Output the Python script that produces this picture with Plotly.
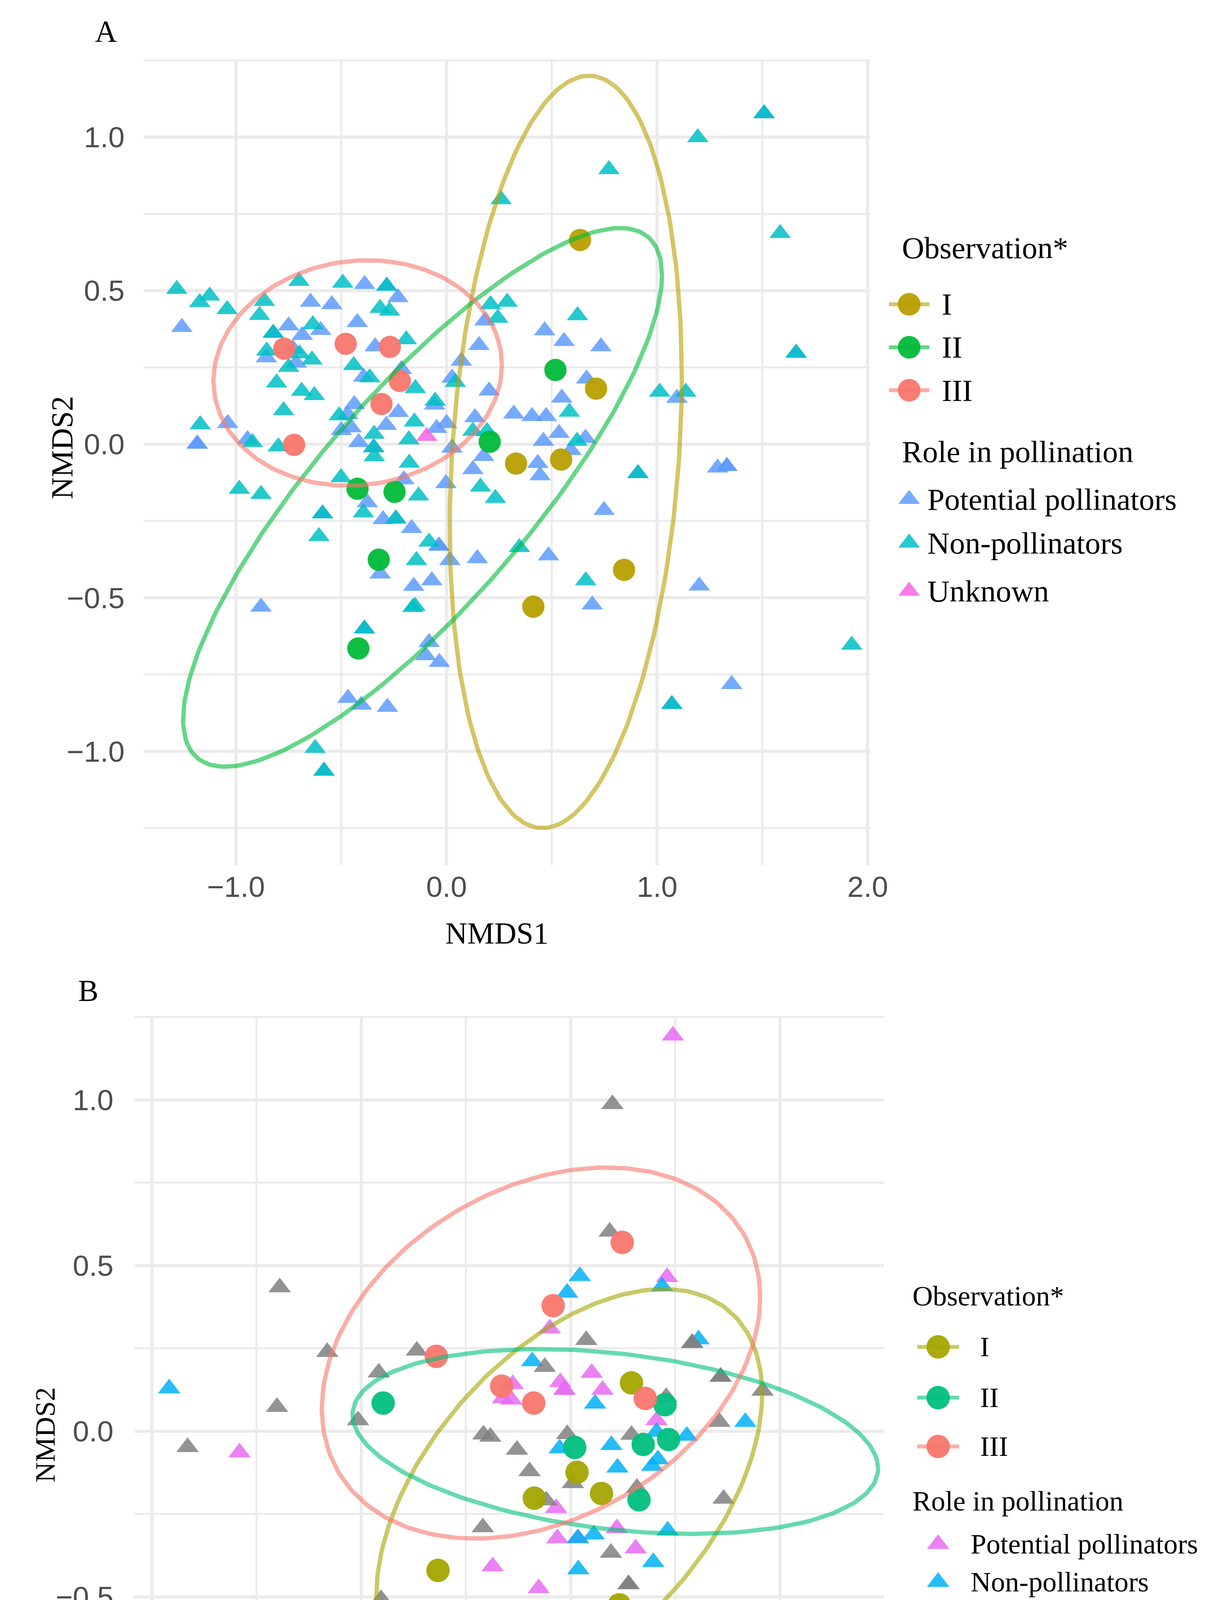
import numpy as np
import plotly.graph_objects as go

# ---------------- panel A : NMDS scores ----------------
# observation groups (circles)
A_I = [(0.634, 0.665), (0.710, 0.181), (0.330, -0.063), (0.544, -0.050), (0.843, -0.409), (0.412, -0.529)]
A_II = [(0.517, 0.242), (0.205, 0.008), (-0.423, -0.145), (-0.247, -0.155), (-0.322, -0.376), (-0.419, -0.665)]
A_III = [(-0.771, 0.311), (-0.479, 0.327), (-0.269, 0.317), (-0.222, 0.206), (-0.309, 0.131), (-0.724, -0.002)]

# species (triangles) by role in pollination
A_POT = [
    (-0.389, 0.521), (-0.284, 0.515), (-0.231, 0.478), (-0.646, 0.463), (-0.545, 0.455), (-1.257, 0.381),
    (-0.424, 0.397), (-0.750, 0.386), (-0.823, 0.362), (-0.598, 0.371), (-0.685, 0.355), (-0.856, 0.282),
    (-0.714, 0.265), (-0.729, 0.311), (-0.339, 0.318), (-0.394, 0.219), (-0.214, 0.244), (0.070, 0.271),
    (0.026, 0.216), (-1.039, 0.068), (-1.184, 0.001), (-1.184, 0.001), (-0.945, 0.016), (-0.438, 0.130),
    (-0.469, 0.097), (-0.229, 0.104), (-0.286, 0.062), (-0.057, 0.128), (0.000, 0.068), (-0.047, 0.052),
    (0.135, 0.087), (-0.500, 0.045), (-0.453, 0.054), (-0.346, -0.011), (-0.417, 0.006), (0.026, -0.012),
    (-0.203, -0.115), (-0.003, -0.128), (0.125, -0.082), (-0.376, -0.190), (-0.589, -0.226), (-0.301, -0.245),
    (-0.241, -0.243), (-0.166, -0.274), (-0.036, -0.331), (-0.036, -0.331), (0.016, -0.378), (0.146, -0.372),
    (-0.315, -0.422), (-0.070, -0.444), (-0.156, -0.462), (-0.881, -0.530), (-0.390, -0.601), (-0.083, -0.645),
    (-0.099, -0.688), (-0.034, -0.710), (-0.468, -0.827), (-0.405, -0.849), (-0.281, -0.856), (-0.582, -1.064),
    (1.508, 1.077), (1.660, 0.297), (0.182, 0.402), (0.466, 0.370), (0.558, 0.335), (0.733, 0.318),
    (0.154, 0.322), (0.202, 0.174), (0.665, 0.213), (1.094, 0.150), (0.547, 0.151), (0.319, 0.099),
    (0.406, 0.091), (0.473, 0.091), (0.534, 0.036), (0.460, 0.010), (0.660, 0.020),
    (0.176, -0.039), (0.591, -0.020), (0.433, -0.062), (0.444, -0.102), (0.909, -0.095), (1.287, -0.077),
    (1.331, -0.072), (1.331, -0.072), (0.748, -0.215), (0.484, -0.363), (0.692, -0.523), (1.200, -0.461),
    (1.354, -0.782), (1.070, -0.847),
]
A_NON = [
    (-1.281, 0.505), (-1.125, 0.483), (-1.172, 0.462), (-1.042, 0.439), (-0.865, 0.466), (-0.701, 0.531),
    (-0.493, 0.525), (-0.284, 0.515), (-0.316, 0.443), (-0.271, 0.434), (-0.888, 0.420), (-0.823, 0.362),
    (-0.635, 0.390), (-0.854, 0.304), (-0.698, 0.295), (-0.639, 0.275), (-0.750, 0.251), (-0.191, 0.341),
    (-0.441, 0.257), (-0.365, 0.217), (-0.148, 0.182), (0.042, 0.202), (-0.807, 0.200), (-0.688, 0.173),
    (-0.628, 0.159), (-0.774, 0.110), (-1.170, 0.064), (-0.922, 0.006), (-0.799, -0.008), (-0.510, 0.093),
    (-0.153, 0.073), (-0.054, 0.141), (0.125, 0.043), (-0.344, 0.033), (-0.346, -0.011), (-0.179, 0.015),
    (-0.343, -0.040),
    (-0.984, -0.146), (-0.881, -0.163), (-0.501, -0.108), (-0.177, -0.061), (-0.133, -0.168), (0.161, -0.139),
    (-0.395, -0.223), (-0.589, -0.226), (-0.241, -0.243), (-0.606, -0.300), (-0.083, -0.318), (-0.143, -0.378),
    (-0.160, -0.531), (-0.150, -0.527), (-0.390, -0.601), (-0.624, -0.990), (-0.582, -1.064),
    (1.508, 1.077), (1.193, 0.999), (0.771, 0.895), (0.259, 0.797), (1.584, 0.687), (1.660, 0.297),
    (0.209, 0.455), (0.288, 0.463), (0.243, 0.411), (0.622, 0.419), (1.012, 0.170), (1.136, 0.170),
    (0.583, 0.105), (0.620, 0.010),
    (0.192, 0.042), (0.232, -0.176), (0.909, -0.095), (0.346, -0.336), (0.661, -0.444), (1.924, -0.654),
    (1.070, -0.847),
]
A_UNK = [(-0.094, 0.026)]

# 95% ellipses per observation (I, II, III): centre, half extents in x / y, x-y correlation
A_ELL_CX = [0.566, -0.114, -0.422]
A_ELL_CY = [-0.025, -0.173, 0.232]
A_ELL_EX = [0.551, 1.137, 0.685]
A_ELL_EY = [1.225, 0.877, 0.367]
A_ELL_R = [0.20, 0.825, 0.07]

# ---------------- panel B ----------------
B_I = [(0.291, 0.146), (0.031, -0.124), (-0.173, -0.202), (0.148, -0.188), (0.233, -0.524), (-0.633, -0.420)]
B_II = [(0.451, 0.080), (0.020, -0.049), (0.347, -0.040), (0.468, -0.025), (0.327, -0.207), (-0.895, 0.085)]
B_III = [(0.247, 0.570), (-0.083, 0.379), (-0.329, 0.136), (-0.176, 0.085), (0.357, 0.099), (-0.641, 0.226)]

B_POT = [
    (0.461, 0.465), (-0.099, 0.310), (0.101, 0.176), (-0.276, 0.142), (-0.049, 0.148), (-0.029, 0.125),
    (-0.029, 0.125), (0.153, 0.125), (-0.323, 0.099), (-0.283, 0.095), (0.411, 0.033), (-0.069, -0.232),
    (0.221, -0.293), (-0.063, -0.323), (0.035, -0.323), (0.311, -0.354), (-0.372, -0.408), (-0.152, -0.474),
    (0.489, 1.194), (-1.581, -0.064), (0.032, -0.849), (0.459, -1.205), (0.459, -1.205),
]
B_NON = [
    (0.044, 0.468), (-0.016, 0.418), (0.437, 0.437), (0.611, 0.277), (-0.183, 0.211), (0.117, 0.083),
    (0.835, 0.028), (0.411, -0.002), (0.555, -0.014), (-0.052, -0.052), (0.195, -0.042), (0.417, -0.085),
    (0.390, -0.105), (0.224, -0.110), (0.464, -0.300), (0.035, -0.323), (0.111, -0.312), (0.395, -0.395),
    (0.037, -0.417), (-1.917, 0.129), (-0.868, -0.839), (0.294, -0.955),
]
B_UNK = [
    (0.187, 0.602), (0.075, 0.275), (0.581, 0.266), (0.581, 0.266), (-0.123, 0.194), (0.717, 0.164),
    (0.717, 0.164), (0.917, 0.122), (0.457, 0.103), (0.711, 0.028), (-0.416, -0.010), (-0.383, -0.017),
    (-0.016, -0.009), (0.291, -0.011), (-0.256, -0.056), (-0.196, -0.121), (0.011, -0.157), (0.317, -0.171),
    (-0.116, -0.209), (0.731, -0.204), (-0.419, -0.290), (0.193, -0.367), (0.277, -0.462), (0.277, -0.462),
    (0.687, -0.538), (0.200, 0.987), (-1.389, 0.434), (-1.162, 0.239), (-0.734, 0.243), (-0.916, 0.177),
    (-1.402, 0.073), (-1.015, 0.033), (-1.829, -0.048), (-0.905, -0.507), (-1.049, -0.816), (0.254, -0.839),
    (-1.370, -0.980),
]

B_ELL_CX = [-0.006, 0.214, -0.141]
B_ELL_CY = [-0.191, -0.031, 0.236]
B_ELL_EX = [0.921, 1.255, 1.047]
B_ELL_EY = [0.620, 0.279, 0.560]
B_ELL_R = [0.49, -0.29, 0.30]

OBS_LABELS = ["I", "II", "III"]
ROLE_LABELS = ["Potential pollinators", "Non-pollinators", "Unknown"]

# ---------------- styling ----------------
W, H = 3131, 5015
SANS = "Liberation Sans"
SERIF = "Liberation Serif"
GRID = "#EBEBEB"

A_OBS_COL = ["#B79F00", "#00BA38", "#F8766D"]
A_ROLE_COL = ["#5E9BFF", "#00BFC4", "#F564E3"]
B_OBS_COL = ["#A3A500", "#00BF7D", "#F8766D"]
B_ROLE_COL = ["#E76BF3", "#00B0F6", "#808080"]


def rgba(hx, a):
    hx = hx.lstrip("#")
    return "rgba(%d,%d,%d,%.2f)" % (int(hx[0:2], 16), int(hx[2:4], 16), int(hx[4:6], 16), a)


def ellipse(cx, cy, ex, ey, r, n=240):
    t = np.linspace(0, 2 * np.pi, n)
    x = cx + ex * np.cos(t)
    y = cy + ey * (r * np.cos(t) + np.sqrt(1 - r ** 2) * np.sin(t))
    return x, y


def px(x):
    return x / W


def py(y):
    return 1 - y / H


fig = go.Figure()


def add_panel(xa, ya, obs, roles, ell, obs_col, role_col, circ_size, tri_size):
    for pts, col in zip(roles, role_col):
        if not pts:
            continue
        fig.add_trace(go.Scatter(
            x=[p[0] for p in pts], y=[p[1] for p in pts], mode="markers", xaxis=xa, yaxis=ya,
            showlegend=False, hoverinfo="skip",
            marker=dict(symbol="triangle-up", size=tri_size, color=col, opacity=0.85, line=dict(width=0))))
    for pts, col in zip(obs, obs_col):
        fig.add_trace(go.Scatter(
            x=[p[0] for p in pts], y=[p[1] for p in pts], mode="markers", xaxis=xa, yaxis=ya,
            showlegend=False, hoverinfo="skip",
            marker=dict(symbol="circle", size=circ_size, color=col, opacity=0.95, line=dict(width=0))))
    for i, col in enumerate(obs_col):
        ex, ey = ellipse(ell[0][i], ell[1][i], ell[2][i], ell[3][i], ell[4][i])
        fig.add_trace(go.Scatter(
            x=ex, y=ey, mode="lines", xaxis=xa, yaxis=ya, showlegend=False, hoverinfo="skip",
            line=dict(color=rgba(col, 0.6), width=11)))


add_panel("x", "y", [A_I, A_II, A_III], [A_POT, A_NON, A_UNK],
          [A_ELL_CX, A_ELL_CY, A_ELL_EX, A_ELL_EY, A_ELL_R], A_OBS_COL, A_ROLE_COL, 57, 48)
add_panel("x2", "y2", [B_I, B_II, B_III], [B_POT, B_NON, B_UNK],
          [B_ELL_CX, B_ELL_CY, B_ELL_EX, B_ELL_EY, B_ELL_R], B_OBS_COL, B_ROLE_COL, 60, 50)


# ---------------- legends (drawn on a pixel overlay so glyphs keep their size) ----------------
def add_legend(title_x, obs_title_y, obs_ys, obs_text_x, role_title_y, role_ys, role_text_x,
               glyph_x, half_line, obs_col, role_col, circ_size, tri_size, fsize):
    for yy, col in zip(obs_ys, obs_col):
        fig.add_trace(go.Scatter(
            x=[glyph_x - half_line, glyph_x + half_line], y=[yy, yy], mode="lines",
            xaxis="x3", yaxis="y3", showlegend=False, hoverinfo="skip",
            line=dict(color=rgba(col, 0.6), width=10)))
        fig.add_trace(go.Scatter(
            x=[glyph_x], y=[yy], mode="markers", xaxis="x3", yaxis="y3", showlegend=False,
            hoverinfo="skip", marker=dict(symbol="circle", size=circ_size, color=col, opacity=0.95)))
    for yy, col in zip(role_ys, role_col):
        fig.add_trace(go.Scatter(
            x=[glyph_x], y=[yy], mode="markers", xaxis="x3", yaxis="y3", showlegend=False,
            hoverinfo="skip", marker=dict(symbol="triangle-up", size=tri_size, color=col, opacity=0.85)))
    texts = [("Observation*", title_x, obs_title_y)]
    texts += [(lab, obs_text_x, yy) for lab, yy in zip(OBS_LABELS, obs_ys)]
    texts += [("Role in pollination", title_x, role_title_y)]
    texts += [(lab, role_text_x, yy) for lab, yy in zip(ROLE_LABELS, role_ys)]
    for txt, tx, ty in texts:
        fig.add_annotation(x=px(tx), y=py(ty), xref="paper", yref="paper", text=txt, showarrow=False,
                           xanchor="left", yanchor="middle",
                           font=dict(family=SERIF, size=fsize, color="black"))


add_legend(2326, 626, [771, 881, 991], 2430, 1149, [1270, 1382, 1505], 2393,
           2347, 53, A_OBS_COL, A_ROLE_COL, 58, 48, 79)
add_legend(2354, 3310, [3440, 3570, 3695], 2531, 3835, [3945, 4042, 4145], 2506,
           2423, 55, B_OBS_COL, B_ROLE_COL, 60, 50, 72)

# ---------------- axes ----------------
A_BOX = (340, 2245, 145, 2207)   # left, right, top, bottom in px
B_BOX = (315, 2281, 2594, 4773)


def axis(rng, dom, dtick, minor, anchor, standoff):
    return dict(range=rng, domain=dom, anchor=anchor, dtick=dtick, tick0=0, tickformat=".1f",
                showgrid=True, gridcolor=GRID, gridwidth=8, zeroline=False, showline=False, ticks="",
                minor=dict(dtick=minor, tick0=0, showgrid=True, gridcolor=GRID, gridwidth=5),
                tickfont=dict(family=SANS, size=75, color="#4D4D4D"),
                ticklabelstandoff=standoff)


fig.update_layout(
    width=W, height=H, margin=dict(l=0, r=0, t=0, b=0),
    paper_bgcolor="white", plot_bgcolor="rgba(0,0,0,0)", showlegend=False,
    xaxis=axis([-1.438, 2.012], [A_BOX[0] / W, A_BOX[1] / W], 1, 0.5, "y", 5),
    yaxis=axis([-1.371, 1.252], [1 - A_BOX[3] / H, 1 - A_BOX[2] / H], 0.5, 0.25, "x", 48),
    xaxis2=axis([-2.084, 1.497], [B_BOX[0] / W, B_BOX[1] / W], 1, 0.5, "y2", 21),
    yaxis2=axis([-1.317, 1.252], [1 - B_BOX[3] / H, 1 - B_BOX[2] / H], 0.5, 0.25, "x2", 52),
    xaxis3=dict(range=[0, W], domain=[0, 1], anchor="y3", visible=False, fixedrange=True),
    yaxis3=dict(range=[H, 0], domain=[0, 1], anchor="x3", visible=False, fixedrange=True),
)

# panel letters and axis titles
for txt, tx, ty, size, ang in [
    ("A", 241, 71, 78, 0), ("B", 195, 2527, 78, 0),
    ("NMDS1", 1266, 2380, 78, 0), ("NMDS2", 125, 1138, 78, -90),
    ("NMDS1", 1441, 4957, 72, 0), ("NMDS2", 82, 3665, 72, -90),
]:
    fig.add_annotation(x=px(tx), y=py(ty), xref="paper", yref="paper", text=txt, showarrow=False,
                       xanchor="center", yanchor="middle", textangle=ang,
                       font=dict(family=SERIF, size=size, color="black"))

fig.write_html("out.html")
